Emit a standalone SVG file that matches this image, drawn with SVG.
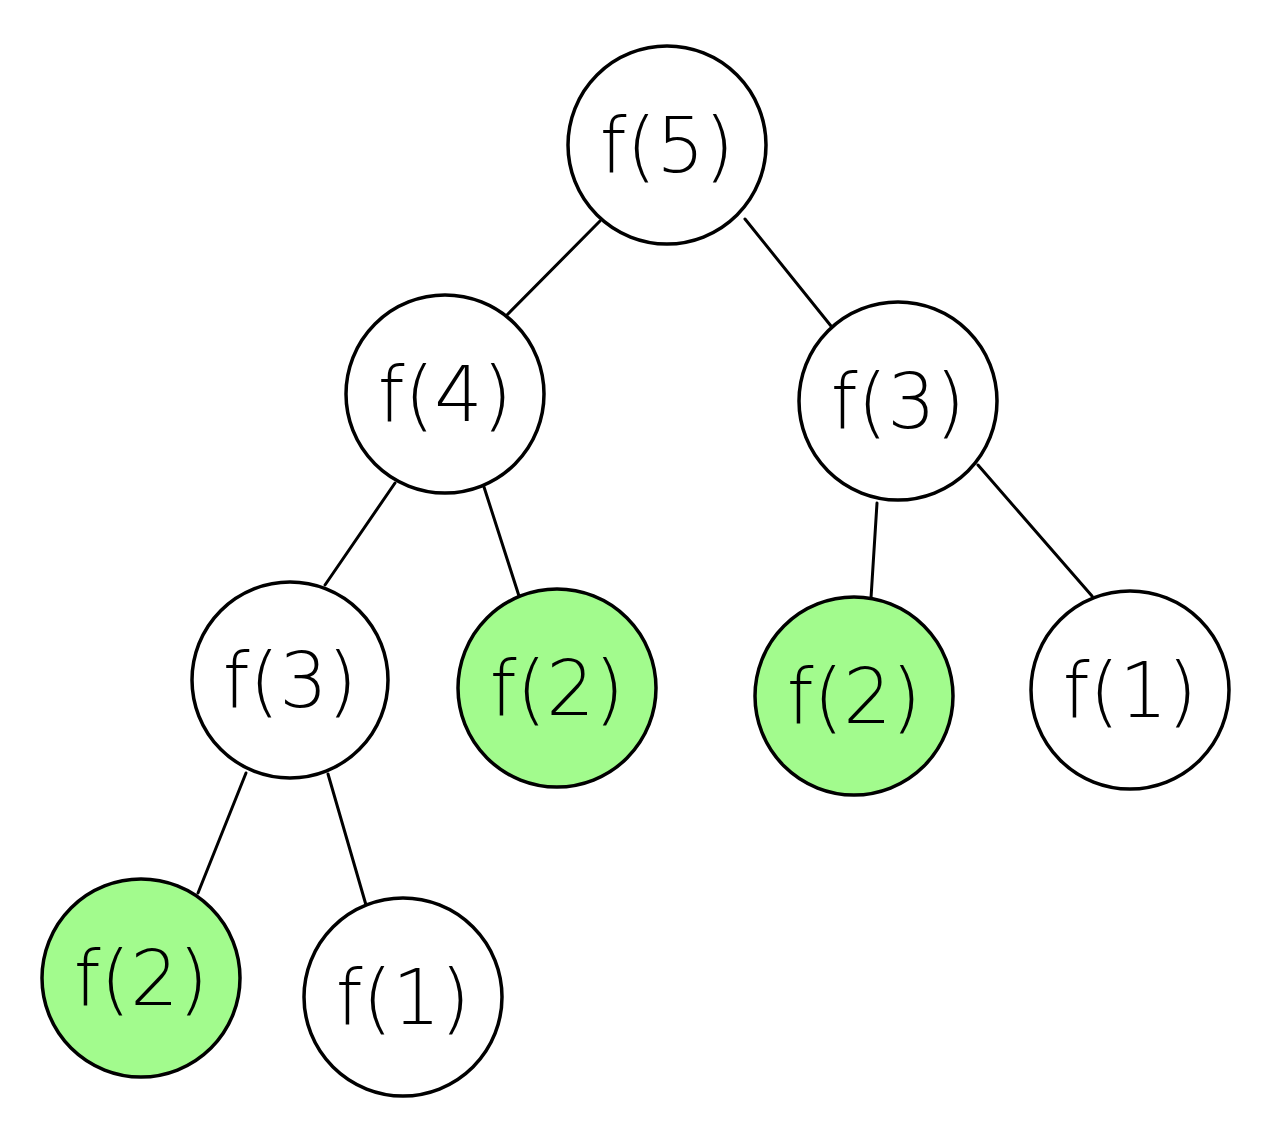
<svg xmlns="http://www.w3.org/2000/svg" width="1268" height="1144" viewBox="0 0 1268 1144">
<style>
.n{fill:#ffffff;stroke:#000;stroke-width:3.5}
.g{fill:#a2fb8d;stroke:#000;stroke-width:3.5}
.t{font-family:"DejaVu Sans",sans-serif;font-size:76px;fill:#000;text-anchor:middle;dominant-baseline:central;font-weight:300}
.e{stroke:#000;stroke-width:3;fill:none;stroke-linecap:round}
</style>
<rect width="1268" height="1144" fill="#fff"/>
<g id="connectors">
<line class="e" x1="600" y1="221" x2="507" y2="315"/>
<line class="e" x1="745" y1="219" x2="831" y2="326"/>
<line class="e" x1="395" y1="483" x2="325" y2="585"/>
<line class="e" x1="484" y1="487" x2="519" y2="596"/>
<line class="e" x1="877" y1="503" x2="871" y2="598"/>
<line class="e" x1="978" y1="465" x2="1092" y2="596"/>
<line class="e" x1="246" y1="773" x2="198" y2="893"/>
<line class="e" x1="328" y1="774" x2="366" y2="905"/>
</g>
<g id="f5"><circle class="n" cx="667" cy="145" r="99"/><text class="t" x="667" y="145">f(5)</text></g>
<g id="f4"><circle class="n" cx="445" cy="394" r="99"/><text class="t" x="445" y="394">f(4)</text></g>
<g id="f3r"><circle class="n" cx="898" cy="401" r="99"/><text class="t" x="898" y="401">f(3)</text></g>
<g id="f3l"><circle class="n" cx="290" cy="680" r="98"/><text class="t" x="290" y="680">f(3)</text></g>
<g id="f2a"><circle class="g" cx="557" cy="688" r="99"/><text class="t" x="557" y="688">f(2)</text></g>
<g id="f2b"><circle class="g" cx="854" cy="696" r="99"/><text class="t" x="854" y="696">f(2)</text></g>
<g id="f1r"><circle class="n" cx="1130" cy="690" r="99"/><text class="t" x="1130" y="690">f(1)</text></g>
<g id="f2c"><circle class="g" cx="141" cy="978" r="99"/><text class="t" x="141" y="978">f(2)</text></g>
<g id="f1b"><circle class="n" cx="403" cy="997" r="99"/><text class="t" x="403" y="997">f(1)</text></g>
</svg>
